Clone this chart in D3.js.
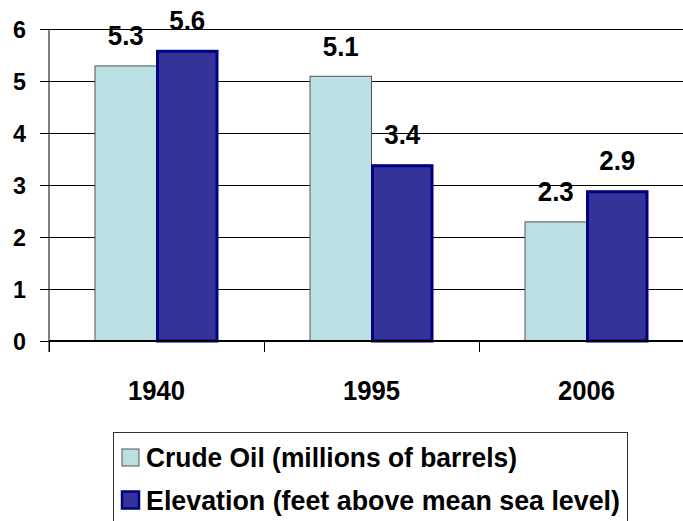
<!DOCTYPE html>
<html>
<head>
<meta charset="utf-8">
<script src="https://cdn.jsdelivr.net/npm/d3@7"></script>
<style>
  html, body { margin: 0; padding: 0; background: #fff; }
  svg text { font-family: Arial, "Liberation Sans", sans-serif; font-weight: bold; fill: #000; }
</style>
</head>
<body>
<script>
// dados do gráfico
const years = ['1940', '1995', '2006'];
const seriesNames = ['Crude Oil (millions of barrels)', 'Elevation (feet above mean sea level)'];
const crudeOil = [5.3, 5.1, 2.3];
const elevation = [5.6, 3.4, 2.9];
const yTicks = [0, 1, 2, 3, 4, 5, 6];

const width = 683, height = 521;
const plotLeft = 49, plotRight = 694, plotTop = 29, plotBottom = 341;

const colors = {
  fill: ['#BAE0E3', '#333399'],
  stroke: ['#555555', '#000080'],
  strokeWidth: [1, 3]
};

const svg = d3.select('body')
  .append('svg')
  .attr('width', width)
  .attr('height', height);

const x0 = d3.scaleBand().domain(years).range([plotLeft, plotRight]);
const x1 = d3.scaleBand().domain(seriesNames).range([0, x0.bandwidth()]).paddingOuter(0.748);
const y = d3.scaleLinear().domain([0, 6]).range([plotBottom, plotTop]);

// grid
svg.append('g')
  .selectAll('line')
  .data(yTicks.filter(d => d > 0))
  .join('line')
  .attr('x1', plotLeft).attr('x2', width)
  .attr('y1', d => y(d)).attr('y2', d => y(d))
  .attr('stroke', '#000').attr('stroke-width', 1)
  .attr('shape-rendering', 'crispEdges');

// eixo Y
const yAxis = svg.append('g')
  .attr('transform', `translate(${plotLeft},0)`)
  .call(d3.axisLeft(y).tickValues(yTicks).tickSize(9).tickFormat(''));
yAxis.select('.domain').attr('d', `M0,${plotTop}V${plotBottom + 11}`).attr('stroke', '#000');
yAxis.selectAll('.tick line').attr('stroke', '#000').attr('shape-rendering', 'crispEdges');

svg.append('g')
  .attr('class', 'y-labels')
  .selectAll('text')
  .data(yTicks)
  .join('text')
  .attr('x', 26)
  .attr('y', d => y(d))
  .attr('dy', '0.36em')
  .attr('text-anchor', 'end')
  .attr('font-size', 24)
  .attr('textLength', 13)
  .attr('lengthAdjust', 'spacingAndGlyphs')
  .text(d => d);

// barras
const rows = years.map((yr, i) => ({ year: yr, values: [crudeOil[i], elevation[i]] }));

const groups = svg.append('g')
  .selectAll('g')
  .data(rows)
  .join('g')
  .attr('transform', d => `translate(${x0(d.year)},0)`);

groups.selectAll('rect')
  .data(d => d.values.map((v, k) => ({ key: seriesNames[k], k, v })))
  .join('rect')
  .attr('x', d => x1(d.key) + (d.k === 1 ? 1 : 0))
  .attr('y', d => y(d.v) + colors.strokeWidth[d.k] / 2)
  .attr('width', d => x1.bandwidth() - (d.k === 1 ? 2 : 0))
  .attr('height', d => y(0) - y(d.v) - colors.strokeWidth[d.k] / 2)
  .attr('fill', d => colors.fill[d.k])
  .attr('stroke', d => colors.stroke[d.k])
  .attr('stroke-width', d => colors.strokeWidth[d.k]);

groups.selectAll('text.val')
  .data(d => d.values.map((v, k) => ({ key: seriesNames[k], k, v })))
  .join('text')
  .attr('class', 'val')
  .attr('x', d => x1(d.key) + x1.bandwidth() / 2)
  .attr('y', d => y(d.v) - 20)
  .attr('text-anchor', 'middle')
  .attr('font-size', 28)
  .attr('textLength', 36)
  .attr('lengthAdjust', 'spacingAndGlyphs')
  .text(d => d3.format('.1f')(d.v));

// eixo X
const xAxis = svg.append('g')
  .attr('transform', `translate(0,${plotBottom})`)
  .call(d3.axisBottom(x0).tickSize(0).tickPadding(0).tickFormat(''));
xAxis.select('.domain').attr('d', `M${plotLeft},0H${width}`).attr('stroke', '#000').attr('stroke-width', 2);

svg.append('g')
  .selectAll('line')
  .data(years)
  .join('line')
  .attr('x1', d => x0(d)).attr('x2', d => x0(d))
  .attr('y1', plotBottom).attr('y2', plotBottom + 11)
  .attr('stroke', '#000')
  .attr('shape-rendering', 'crispEdges');

svg.append('g')
  .selectAll('text')
  .data(years)
  .join('text')
  .attr('x', d => x0(d) + x0.bandwidth() / 2)
  .attr('y', 400)
  .attr('text-anchor', 'middle')
  .attr('font-size', 28)
  .attr('textLength', 57)
  .attr('lengthAdjust', 'spacingAndGlyphs')
  .text(d => d);

// legenda
const legend = svg.append('g');
legend.append('rect')
  .attr('x', 113.5).attr('y', 432.5)
  .attr('width', 514).attr('height', 120)
  .attr('fill', '#fff')
  .attr('stroke', '#333').attr('stroke-width', 1);

const legendRows = [
  { name: seriesNames[0], k: 0, cy: 457.5, base: 467, len: 371 },
  { name: seriesNames[1], k: 1, cy: 500, base: 510, len: 474 }
];

const items = legend.selectAll('g')
  .data(legendRows)
  .join('g');

items.append('rect')
  .attr('x', 122).attr('y', d => d.cy - 8.5)
  .attr('width', 17).attr('height', 17)
  .attr('fill', d => colors.fill[d.k])
  .attr('stroke', d => colors.stroke[d.k])
  .attr('stroke-width', d => d.k === 1 ? 2.5 : 1);

items.append('text')
  .attr('x', 146)
  .attr('y', d => d.base)
  .attr('font-size', 27)
  .attr('textLength', d => d.len)
  .attr('lengthAdjust', 'spacingAndGlyphs')
  .text(d => d.name);
</script>
</body>
</html>
